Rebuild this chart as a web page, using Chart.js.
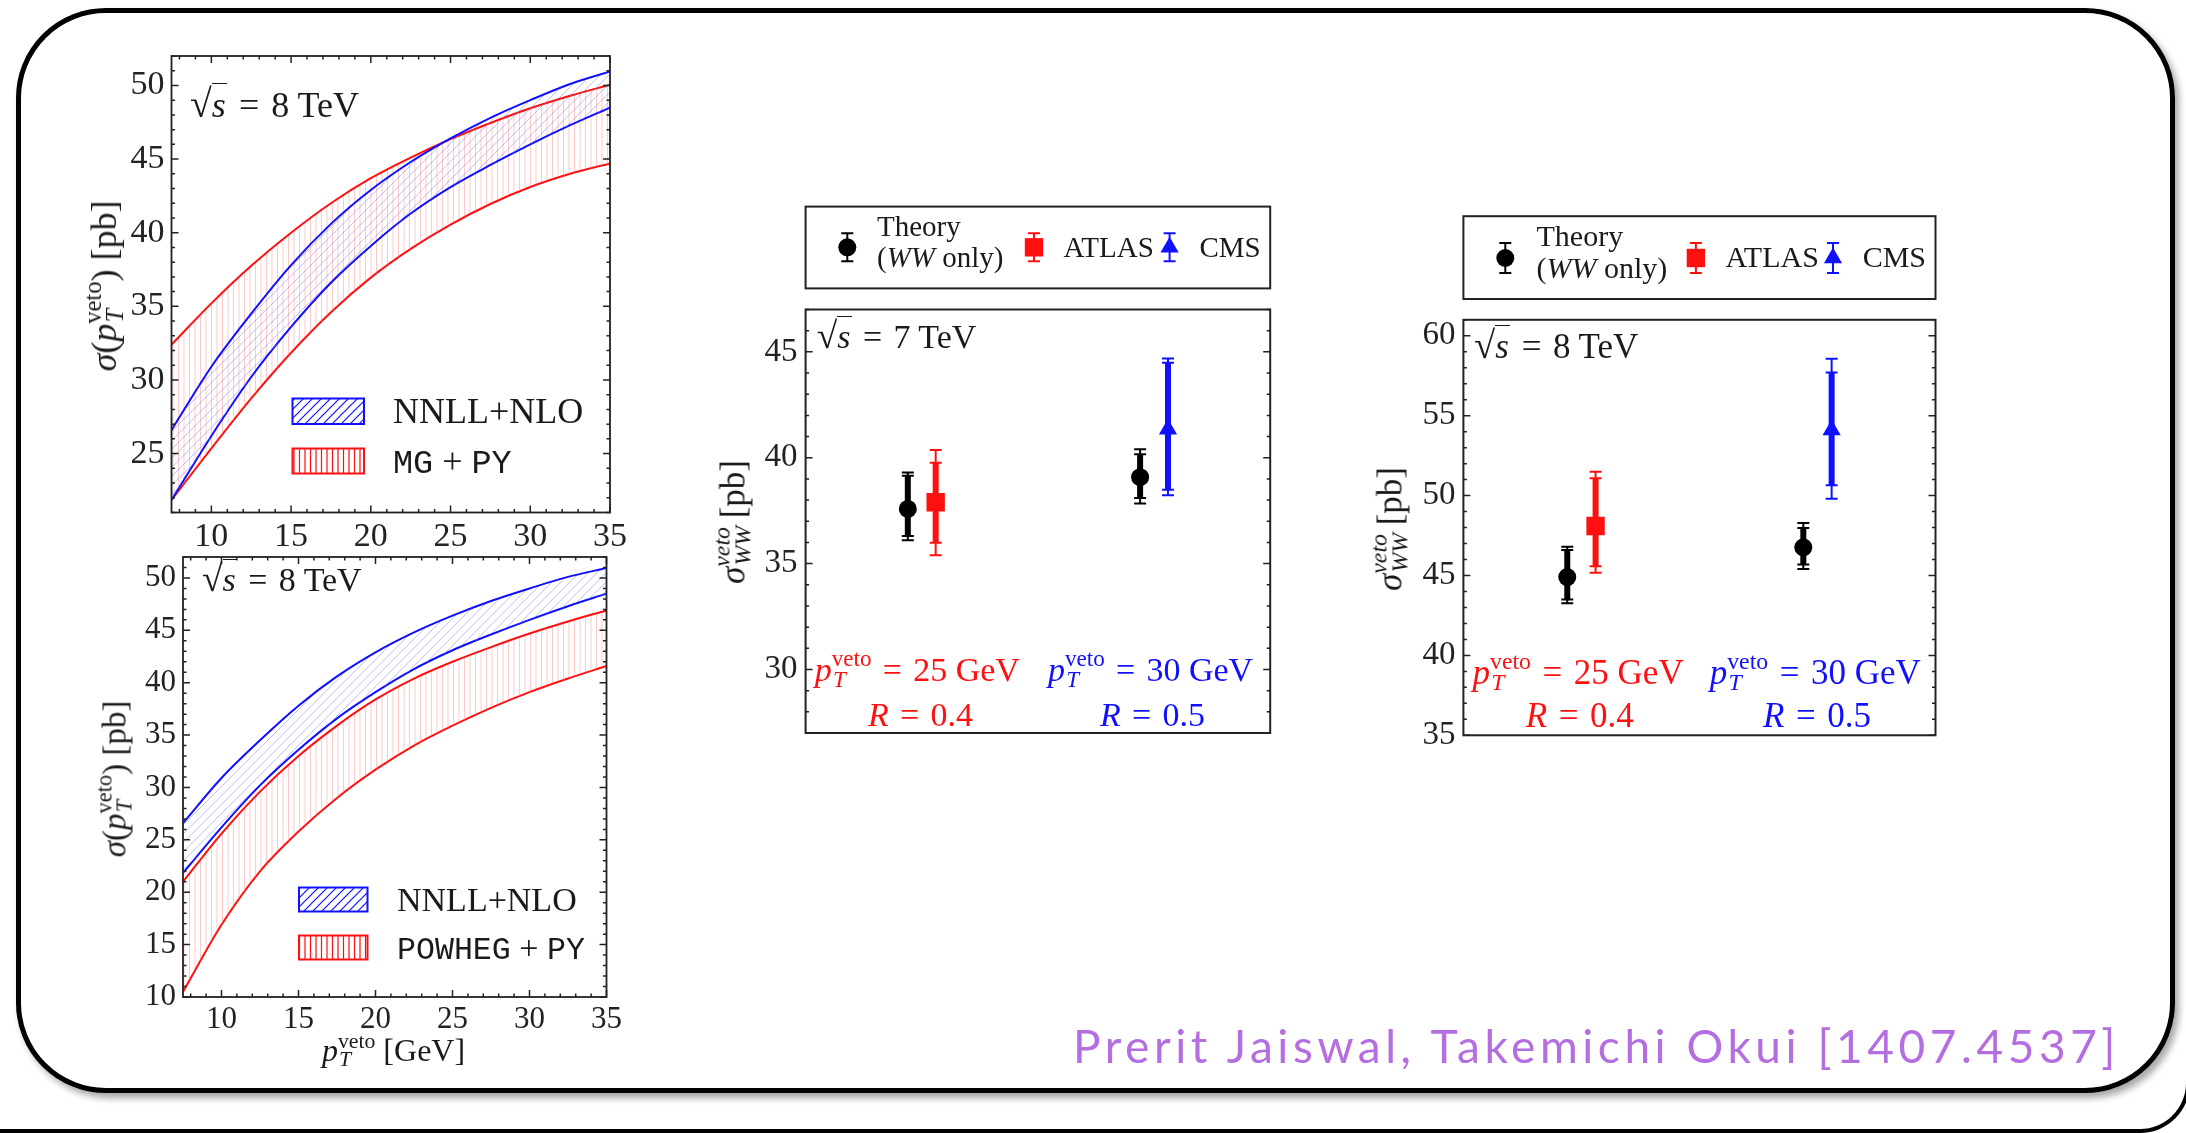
<!DOCTYPE html>
<html>
<head>
<meta charset="utf-8">
<script src="https://cdn.jsdelivr.net/npm/chart.js@4.4.1/dist/chart.umd.min.js"></script>
<style>
  html, body { margin:0; padding:0; background:#fff; }
  body { width:2186px; height:1133px; position:relative; overflow:hidden; font-family:"Liberation Serif", serif; color:#1a1a1a; }
  #frame { position:absolute; left:16px; top:8px; width:2159px; height:1085px; box-sizing:border-box; border:5px solid #000; border-radius:90px; box-shadow:4px 5px 7px rgba(0,0,0,0.35); }
  #frame2 { position:absolute; left:-30px; top:700px; width:2220px; height:433px; box-sizing:border-box; border-right:4px solid #000; border-bottom:4px solid #000; border-bottom-right-radius:50px; }
  canvas { position:absolute; left:0; top:0; }
  .t { position:absolute; white-space:nowrap; line-height:1; }
  .m { font-family:"Liberation Mono", monospace; font-size:.93em; }
  .ss { position:relative; display:inline-block; }
  .sp { font-size:.68em; position:relative; top:-.62em; }
  .sb { font-size:.68em; position:absolute; left:.05em; top:.69em; font-style:italic; }
  .rad { font-size:1.1em; }
  .ov { border-top:1.5px solid currentColor; padding-top:1px; padding-right:.04em; }
  .eq { margin:0 .08em; }
  .rot { transform: translate(-50%,-50%) rotate(-90deg); }
</style>
</head>
<body>
<div id="frame"></div>
<div id="frame2"></div>
<script>
// ================= DATA =================
// pT veto grid (GeV) at which the bands were read off the figure
const ptVeto      = [7.5, 10, 12.5, 15, 17.5, 20, 22.5, 25, 27.5, 30, 32.5, 35];
// NNLL+NLO band, sqrt(s)=8 TeV (pb)
const nnllUpper   = [26.6, 30.9, 34.5, 37.8, 40.6, 42.9, 44.8, 46.4, 47.8, 49.0, 50.1, 50.95];
const nnllLower   = [21.85, 26.2, 30.2, 33.6, 36.6, 39.1, 41.3, 43.1, 44.6, 46.0, 47.3, 48.5];
// MG + PY band (pb)
const mgpyUpper   = [32.4, 35.2, 37.75, 40.0, 42.0, 43.7, 45.1, 46.35, 47.45, 48.45, 49.3, 50.05];
const mgpyLower   = [21.85, 25.35, 28.75, 31.85, 34.6, 36.95, 38.9, 40.55, 41.95, 43.1, 44.0, 44.7];
// POWHEG + PY band (pb)
const powhegUpper = [21.0, 25.6, 29.6, 33.0, 35.9, 38.4, 40.4, 42.0, 43.4, 44.7, 45.85, 46.9];
const powhegLower = [10.5, 16.9, 22.0, 25.8, 29.0, 31.7, 34.0, 35.9, 37.6, 39.1, 40.4, 41.6];

const ptTicks        = [10, 15, 20, 25, 30, 35];
const sigmaTicksTop  = [25, 30, 35, 40, 45, 50];
const sigmaTicksBot  = [10, 15, 20, 25, 30, 35, 40, 45, 50];
const wwTicks7       = [30, 35, 40, 45];
const wwTicks8       = [35, 40, 45, 50, 55, 60];

// measurement groups: [pTveto=25 GeV, R=0.4] and [pTveto=30 GeV, R=0.5]
const groups = ['pT25_R04', 'pT30_R05'];
// 7 TeV
const theory7      = [37.58, 39.08];
const theory7Inner = [[36.30, 39.15], [38.10, 40.17]];
const theory7Outer = [[36.10, 39.30], [37.84, 40.40]];
const atlas7       = [37.90];
const atlas7Inner  = [[35.98, 39.76]];
const atlas7Outer  = [[35.40, 40.36]];
const cms7         = [41.35];
const cms7Inner    = [[38.49, 44.48]];
const cms7Outer    = [[38.23, 44.69]];
// 8 TeV
const theory8      = [44.90, 46.76];
const theory8Inner = [[43.50, 46.60], [45.69, 47.97]];
const theory8Outer = [[43.26, 46.80], [45.40, 48.28]];
const atlas8       = [48.10];
const atlas8Inner  = [[45.58, 51.08]];
const atlas8Outer  = [[45.17, 51.49]];
const cms8         = [54.10];
const cms8Inner    = [[50.65, 57.70]];
const cms8Outer    = [[49.80, 58.57]];

// ================= STYLE / LAYOUT =================
const W = 2186, H = 1133;
const AX_W = 90, AX_H = 50;
const BLUE = '#1010ff', RED = '#ff1010', INK = '#222';
const FONT = 'Liberation Serif';
const DODGE = 0.06;

function mkCanvas() {
  const c = document.createElement('canvas');
  c.width = W; c.height = H; c.style.width = W + 'px'; c.style.height = H + 'px';
  document.body.appendChild(c); return c;
}
function layoutPad(a, xAxis) { return {left: a.l - AX_W, top: a.t, right: W - a.r, bottom: H - a.b - (xAxis ? AX_H : 0)}; }
const fixW = s => { s.width = AX_W; };
const fixH = s => { s.height = AX_H; };
const tickSetter = arr => s => { s.ticks = arr.map(v => ({value: v})); };

function hatch(kind, color, sp, lw) {
  const c = document.createElement('canvas');
  const g = c.getContext('2d');
  if (kind === 'v') {
    c.width = 11; c.height = 4;
    g.strokeStyle = color; g.lineWidth = lw;
    g.beginPath(); g.moveTo(2.5, 0); g.lineTo(2.5, 4); g.moveTo(8, 0); g.lineTo(8, 4); g.stroke();
  } else {
    c.width = sp; c.height = sp;
    g.strokeStyle = color; g.lineWidth = lw;
    g.beginPath();
    g.moveTo(-1, sp + 1); g.lineTo(sp + 1, -1);
    g.moveTo(-1, 1); g.lineTo(1, -1);
    g.moveTo(sp - 1, sp + 1); g.lineTo(sp + 1, sp - 1);
    g.stroke();
  }
  return g.createPattern(c, 'repeat');
}

// ---------------- plugins ----------------
const frameTicks = {
  id: 'frameTicks',
  afterDatasetsDraw(chart, args, o) {
    if (!o || !o.on) return;
    const {ctx, chartArea: a} = chart;
    const x = chart.scales.x, y = chart.scales.y;
    const L = o.major || 7, l = o.minor || 3.5;
    ctx.save();
    ctx.strokeStyle = INK; ctx.lineWidth = o.lw || 1.5;
    ctx.beginPath();
    if (o.xMinor) {
      const majors = x.ticks.map(t => t.value);
      for (let v = Math.ceil(x.min); v <= x.max + 1e-9; v += o.xMinor) {
        const len = majors.includes(v) ? L : l;
        const px = x.getPixelForValue(v);
        ctx.moveTo(px, a.bottom); ctx.lineTo(px, a.bottom - len);
        ctx.moveTo(px, a.top); ctx.lineTo(px, a.top + len);
      }
    }
    if (o.yMinor) {
      const majors = y.ticks.map(t => t.value);
      for (let v = Math.ceil(y.min); v <= y.max + 1e-9; v += o.yMinor) {
        const len = majors.includes(v) ? L : l;
        const py = y.getPixelForValue(v);
        ctx.moveTo(a.left, py); ctx.lineTo(a.left + len, py);
        ctx.moveTo(a.right, py); ctx.lineTo(a.right - len, py);
      }
    }
    ctx.stroke();
    ctx.lineWidth = o.frameLw || 1.5;
    ctx.strokeRect(a.left, a.top, a.right - a.left, a.bottom - a.top);
    ctx.restore();
  }
};

const patchLegend = {
  id: 'patchLegend',
  afterDatasetsDraw(chart, args, o) {
    if (!o || !o.items) return;
    const ctx = chart.ctx;
    ctx.save();
    o.items.forEach(it => {
      ctx.fillStyle = '#fff';
      ctx.fillRect(it.x0, it.y0, it.x1 - it.x0, it.y1 - it.y0);
      ctx.fillStyle = it.pattern;
      ctx.fillRect(it.x0, it.y0, it.x1 - it.x0, it.y1 - it.y0);
      ctx.strokeStyle = it.color; ctx.lineWidth = 2;
      ctx.strokeRect(it.x0, it.y0, it.x1 - it.x0, it.y1 - it.y0);
    });
    ctx.restore();
  }
};

function drawMarker(ctx, style, x, y, r, color) {
  ctx.fillStyle = color;
  ctx.beginPath();
  if (style === 'circle') ctx.arc(x, y, r, 0, Math.PI * 2);
  else if (style === 'rect') { const s = r * Math.SQRT1_2; ctx.rect(x - s, y - s, 2 * s, 2 * s); }
  else { ctx.moveTo(x, y - r); ctx.lineTo(x + r * 0.866, y + r / 2); ctx.lineTo(x - r * 0.866, y + r / 2); ctx.closePath(); }
  ctx.fill();
}
function vbar(ctx, x, y0, y1, lw, cap) {
  ctx.lineWidth = lw;
  ctx.beginPath(); ctx.moveTo(x, y0); ctx.lineTo(x, y1); ctx.stroke();
  if (cap) {
    ctx.lineWidth = 2;
    ctx.beginPath();
    ctx.moveTo(x - cap, y0); ctx.lineTo(x + cap, y0);
    ctx.moveTo(x - cap, y1); ctx.lineTo(x + cap, y1);
    ctx.stroke();
  }
}

const errBars = {
  id: 'errBars',
  beforeDatasetsDraw(chart, args, o) {
    if (!o || !o.on) return;
    const ctx = chart.ctx, ys = chart.scales.y;
    ctx.save();
    chart.data.datasets.forEach((ds, di) => {
      const meta = chart.getDatasetMeta(di);
      meta.data.forEach((pt, i) => {
        const inn = ds.errInner[i], out = ds.errOuter[i];
        ctx.strokeStyle = ds.backgroundColor;
        vbar(ctx, pt.x, ys.getPixelForValue(out[0]), ys.getPixelForValue(out[1]), 2, 6);
        vbar(ctx, pt.x, ys.getPixelForValue(inn[0]), ys.getPixelForValue(inn[1]), 6, 6);
      });
    });
    ctx.restore();
  }
};

const markerLegend = {
  id: 'markerLegend',
  afterDraw(chart, args, o) {
    if (!o || !o.box) return;
    const ctx = chart.ctx, b = o.box;
    ctx.save();
    ctx.strokeStyle = INK; ctx.lineWidth = 2;
    ctx.strokeRect(b[0], b[1], b[2] - b[0], b[3] - b[1]);
    chart.data.datasets.forEach((ds, i) => {
      const p = o.pos[i];
      ctx.strokeStyle = ds.backgroundColor;
      vbar(ctx, p[0], p[1] - o.half, p[1] + o.half, 2, 6);
      drawMarker(ctx, ds.pointStyle, p[0], p[1], ds.pointRadius, ds.backgroundColor);
    });
    ctx.restore();
  }
};

Chart.register(frameTicks, patchLegend, errBars, markerLegend);

// ---------------- band charts ----------------
function band(label, ys, color, pattern, fill) {
  return {
    label, data: ptVeto.map((x, i) => ({x, y: ys[i]})),
    borderColor: color, borderWidth: 2, pointRadius: 0,
    fill, backgroundColor: pattern || 'rgba(0,0,0,0)',
    cubicInterpolationMode: 'monotone'
  };
}
function bandOptions(area, ymin, ymax, yticks, fs, legendItems) {
  const tickFont = {family: FONT, size: fs};
  return {
    responsive: false, animation: false, devicePixelRatio: 1,
    layout: {padding: layoutPad(area, true)},
    plugins: {
      legend: {display: false}, tooltip: {enabled: false},
      frameTicks: {on: true, xMinor: 1, yMinor: 1, lw: 1.5, frameLw: 1.8},
      patchLegend: {items: legendItems}
    },
    scales: {
      x: {type: 'linear', min: 7.5, max: 35, afterBuildTicks: tickSetter(ptTicks), afterFit: fixH,
          grid: {display: false, drawTicks: false}, border: {display: false},
          ticks: {font: tickFont, color: INK, padding: 4, maxRotation: 0, autoSkip: false}},
      y: {type: 'linear', min: ymin, max: ymax, afterBuildTicks: tickSetter(yticks), afterFit: fixW,
          grid: {display: false, drawTicks: false}, border: {display: false},
          ticks: {font: tickFont, color: INK, padding: 7, autoSkip: false}}
    }
  };
}

const plotBlue = hatch('d', 'rgba(120,120,255,0.45)', 9, 1);
const plotRed  = hatch('v', 'rgba(255,120,120,0.40)', 5.5, 1);
const legBlue  = hatch('d', BLUE, 9, 1.2);
const legRed   = hatch('v', RED, 5.5, 1.2);

const area1 = {l: 171.5, t: 56, r: 610, b: 512.5};
new Chart(mkCanvas(), {
  type: 'line',
  data: {datasets: [
    band('NNLL+NLO', nnllUpper, BLUE, plotBlue, '+1'),
    band('NNLL+NLO (low)', nnllLower, BLUE, null, false),
    band('MG + PY', mgpyUpper, RED, plotRed, '+1'),
    band('MG + PY (low)', mgpyLower, RED, null, false)
  ]},
  options: bandOptions(area1, 21, 52, sigmaTicksTop, 34, [
    {x0: 292.5, y0: 398.5, x1: 364, y1: 424, pattern: legBlue, color: BLUE},
    {x0: 292.5, y0: 448.5, x1: 364, y1: 473.5, pattern: legRed, color: RED}
  ])
});

const area2 = {l: 183, t: 557, r: 606.5, b: 997};
new Chart(mkCanvas(), {
  type: 'line',
  data: {datasets: [
    band('NNLL+NLO', nnllUpper, BLUE, plotBlue, '+1'),
    band('NNLL+NLO (low)', nnllLower, BLUE, null, false),
    band('POWHEG + PY', powhegUpper, RED, plotRed, '+1'),
    band('POWHEG + PY (low)', powhegLower, RED, null, false)
  ]},
  options: bandOptions(area2, 10, 52, sigmaTicksBot, 31, [
    {x0: 299, y0: 887.5, x1: 367.5, y1: 911.5, pattern: legBlue, color: BLUE},
    {x0: 299, y0: 935.5, x1: 367.5, y1: 959.5, pattern: legRed, color: RED}
  ])
});

// ---------------- measurement charts ----------------
function measSets(th, thIn, thOut, at, atIn, atOut, cm, cmIn, cmOut) {
  return [
    {label: 'Theory', data: th.map((v, i) => ({x: i - DODGE, y: v})), errInner: thIn, errOuter: thOut,
     pointStyle: 'circle', pointRadius: 9, pointBorderWidth: 0, backgroundColor: '#000', borderColor: '#000', showLine: false},
    {label: 'ATLAS', data: at.map((v, i) => ({x: i + DODGE, y: v})), errInner: atIn, errOuter: atOut,
     pointStyle: 'rect', pointRadius: 13, pointBorderWidth: 0, backgroundColor: RED, borderColor: RED, showLine: false},
    {label: 'CMS', data: cm.map((v, i) => ({x: i + 1 + DODGE, y: v})), errInner: cmIn, errOuter: cmOut,
     pointStyle: 'triangle', pointRadius: 10.5, pointBorderWidth: 0, backgroundColor: BLUE, borderColor: BLUE, showLine: false}
  ];
}
function measOptions(area, ymin, ymax, yticks, fs, legend) {
  return {
    responsive: false, animation: false, devicePixelRatio: 1,
    layout: {padding: layoutPad(area, false)},
    plugins: {
      legend: {display: false}, tooltip: {enabled: false},
      frameTicks: {on: true, yMinor: 1, lw: 1.5, frameLw: 2},
      errBars: {on: true},
      markerLegend: legend
    },
    scales: {
      x: {type: 'linear', min: -0.5, max: groups.length - 0.5, display: false},
      y: {type: 'linear', min: ymin, max: ymax, afterBuildTicks: tickSetter(yticks), afterFit: fixW,
          grid: {display: false, drawTicks: false}, border: {display: false},
          ticks: {font: {family: FONT, size: fs}, color: INK, padding: 8, autoSkip: false}}
    }
  };
}

const area3 = {l: 805.6, t: 309.5, r: 1270.2, b: 733};
new Chart(mkCanvas(), {
  type: 'scatter',
  data: {datasets: measSets(theory7, theory7Inner, theory7Outer, atlas7, atlas7Inner, atlas7Outer, cms7, cms7Inner, cms7Outer)},
  options: measOptions(area3, 27, 47, wwTicks7, 33,
    {box: [805.6, 206.6, 1270.2, 288.4], half: 14, pos: [[847.3, 247.3], [1034, 247.3], [1169.6, 247.3]]})
});

const area4 = {l: 1463.4, t: 319.8, r: 1935.5, b: 735.3};
new Chart(mkCanvas(), {
  type: 'scatter',
  data: {datasets: measSets(theory8, theory8Inner, theory8Outer, atlas8, atlas8Inner, atlas8Outer, cms8, cms8Inner, cms8Outer)},
  options: measOptions(area4, 35, 61, wwTicks8, 33,
    {box: [1463.4, 216.2, 1935.5, 299], half: 15, pos: [[1505.3, 258], [1695.9, 258], [1833, 258]]})
});

// ================= TEXT =================
function txt(html, x, base, size, style) {
  const d = document.createElement('div');
  d.className = 't'; d.innerHTML = html;
  d.style.fontSize = size + 'px'; d.style.left = x + 'px'; d.style.top = (base - 0.8375 * size) + 'px';
  if (style) Object.assign(d.style, style);
  document.body.appendChild(d); return d;
}
function rtxt(html, cx, cy, size) {
  const d = document.createElement('div');
  d.className = 't rot'; d.innerHTML = html;
  d.style.fontSize = size + 'px'; d.style.left = cx + 'px'; d.style.top = cy + 'px';
  document.body.appendChild(d); return d;
}
const EQ = '<span class="eq">=</span>';
const pT = '<i>p</i><span class="ss"><span class="sp">veto</span><span class="sb">T</span></span>';
const sqrtS = e => '<span class="rad">√</span><span class="ov"><i>s</i></span> ' + EQ + ' ' + e + ' TeV';
const sigTitle = '<i>σ</i>(' + pT + ') [pb]';
const sigWW = '<i>σ</i><span class="ss"><span class="sp"><i>veto</i></span><span class="sb">WW</span></span> [pb]';

// chart 1
txt(sqrtS(8), 190, 115, 36);
txt('NNLL+NLO', 393, 423, 36);
txt('<span class="m">MG</span> + <span class="m">PY</span>', 393, 473, 36);
rtxt(sigTitle, 104, 286, 36);
// chart 2
txt(sqrtS(8), 202, 588, 34);
txt('NNLL+NLO', 397, 911.5, 34);
txt('<span class="m">POWHEG</span> + <span class="m">PY</span>', 397, 959, 34);
rtxt(sigTitle, 115, 779, 33);
txt(pT + ' [GeV]', 393.5, 1061, 32, {transform: 'translateX(-50%)'});
// chart 3
txt('Theory', 877, 236, 29);
txt('(<i>WW</i> only)', 877, 267.7, 29);
txt('ATLAS', 1063.6, 257.7, 29);
txt('CMS', 1199.4, 257.7, 29);
txt(sqrtS(7), 816.7, 345.4, 34);
txt(pT + ' ' + EQ + ' 25 GeV', 814.8, 681, 34, {color: RED});
txt('<i>R</i> ' + EQ + ' 0.4', 868, 726.8, 34, {color: RED});
txt(pT + ' ' + EQ + ' 30 GeV', 1048, 681, 34, {color: BLUE});
txt('<i>R</i> ' + EQ + ' 0.5', 1100, 726.8, 34, {color: BLUE});
rtxt(sigWW, 733, 522, 35);
// chart 4
txt('Theory', 1536.5, 246.3, 30);
txt('(<i>WW</i> only)', 1536.5, 278.3, 30);
txt('ATLAS', 1725.5, 267.4, 30);
txt('CMS', 1862.7, 267.4, 30);
txt(sqrtS(8), 1474, 355.4, 35);
txt(pT + ' ' + EQ + ' 25 GeV', 1472.5, 684, 35, {color: RED});
txt('<i>R</i> ' + EQ + ' 0.4', 1525.8, 727, 35, {color: RED});
txt(pT + ' ' + EQ + ' 30 GeV', 1709.7, 684, 35, {color: BLUE});
txt('<i>R</i> ' + EQ + ' 0.5', 1763, 727, 35, {color: BLUE});
rtxt(sigWW, 1390, 529, 35);

// attribution
const attr = txt('Prerit Jaiswal, Takemichi Okui [1407.4537]', 1073, 1062, 46,
  {color: '#b46ee0', fontFamily: 'Lato, sans-serif'});
const aw = attr.getBoundingClientRect().width;
attr.style.letterSpacing = ((1047 - aw) / attr.textContent.length) + 'px';
</script>
</body>
</html>
